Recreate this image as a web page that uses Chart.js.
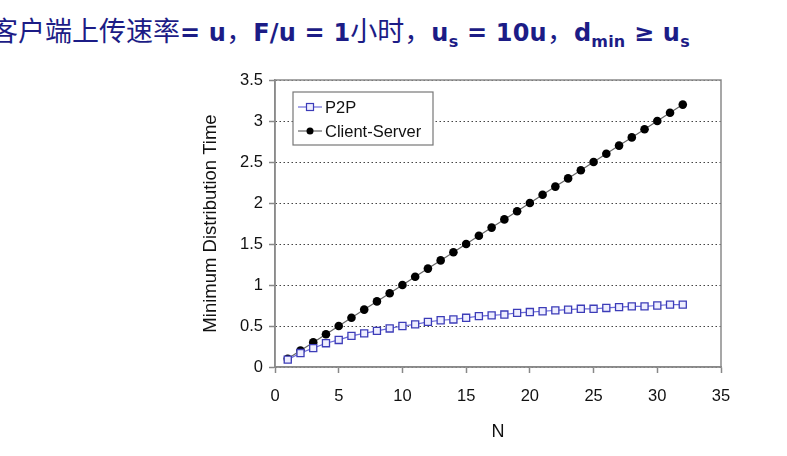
<!DOCTYPE html>
<html>
<head>
<meta charset="utf-8">
<script src="https://cdn.jsdelivr.net/npm/chart.js@4.4.0/dist/chart.umd.min.js"></script>
<style>
  html, body { margin: 0; padding: 0; background: #fff; }
  body { width: 787px; height: 456px; position: relative; overflow: hidden; }
  #title {
    position: absolute; left: -9px; top: 10px; white-space: nowrap;
    color: #1c1c86; font-family: "DejaVu Sans", Verdana, sans-serif;
    font-size: 24px; font-weight: bold; letter-spacing: 0.2px;
  }
  #title .cjk { font-family: "Noto Sans CJK SC", sans-serif; font-weight: normal; font-size: 27px; letter-spacing: 0; }
  #title sub { font-size: 16px; vertical-align: -6px; }
  #wrap { position: absolute; left: 0; top: 0; width: 787px; height: 456px; }
</style>
</head>
<body>
<div id="title"><span class="cjk">客户端上传速率</span>= u<span class="cjk">，</span>F/u = 1<span class="cjk">小时，</span>u<sub>s</sub> = 10u<span class="cjk">，</span>d<sub>min</sub> ≥ u<sub>s</sub></div>
<div id="wrap"><canvas id="chart" width="787" height="456"></canvas></div>
<script>
// N values (number of peers)
const nValues = [1, 2, 3, 4, 5, 6, 7, 8, 9, 10, 11, 12, 13, 14, 15, 16,
                 17, 18, 19, 20, 21, 22, 23, 24, 25, 26, 27, 28, 29, 30, 31, 32];

// Minimum distribution time
const p2pTimes = [0.09, 0.17, 0.23, 0.29, 0.33, 0.38, 0.41, 0.44, 0.47, 0.50, 0.52, 0.55,
                  0.57, 0.58, 0.60, 0.62, 0.63, 0.64, 0.66, 0.67, 0.68, 0.69, 0.70, 0.71,
                  0.71, 0.72, 0.73, 0.74, 0.74, 0.75, 0.76, 0.76];
const csTimes = [0.1, 0.2, 0.3, 0.4, 0.5, 0.6, 0.7, 0.8, 0.9, 1.0, 1.1, 1.2, 1.3, 1.4, 1.5, 1.6,
                 1.7, 1.8, 1.9, 2.0, 2.1, 2.2, 2.3, 2.4, 2.5, 2.6, 2.7, 2.8, 2.9, 3.0, 3.1, 3.2];

const seriesLabels = ['P2P', 'Client-Server'];

// Excel-like frame around the plot area plus a boxed legend inside it
const frameAndLegend = {
    id: 'frameAndLegend',
    afterDraw(chart) {
        const ctx = chart.ctx;
        const a = chart.chartArea;
        ctx.save();
        ctx.strokeStyle = '#8a8a8a';
        ctx.lineWidth = 1.5;
        ctx.strokeRect(a.left, a.top, a.right - a.left, a.bottom - a.top);

        // legend box
        const bx = a.left + 18, by = a.top + 12, bw = 140, bh = 53;
        ctx.fillStyle = '#fff';
        ctx.fillRect(bx, by, bw, bh);
        ctx.strokeStyle = '#777';
        ctx.lineWidth = 1.2;
        ctx.strokeRect(bx, by, bw, bh);
        ctx.font = '16.5px "Liberation Sans", Arial, sans-serif';
        ctx.textBaseline = 'middle';
        chart.data.datasets.forEach((ds, i) => {
            const y = by + 15 + i * 24;
            ctx.strokeStyle = ds.borderColor;
            ctx.lineWidth = 1.2;
            ctx.beginPath();
            ctx.moveTo(bx + 5, y);
            ctx.lineTo(bx + 29, y);
            ctx.stroke();
            if (ds.pointStyle === 'rect') {
                ctx.fillStyle = ds.pointBackgroundColor;
                ctx.strokeStyle = ds.pointBorderColor;
                ctx.fillRect(bx + 13.5, y - 3.5, 7, 7);
                ctx.strokeRect(bx + 13.5, y - 3.5, 7, 7);
            } else {
                ctx.fillStyle = ds.pointBackgroundColor;
                ctx.beginPath();
                ctx.arc(bx + 17, y, 3.5, 0, Math.PI * 2);
                ctx.fill();
            }
            ctx.fillStyle = '#111';
            ctx.fillText(ds.label, bx + 32, y + 1);
        });
        ctx.restore();
    }
};

const ctx = document.getElementById('chart').getContext('2d');
new Chart(ctx, {
    type: 'line',
    data: {
        datasets: [{
            label: seriesLabels[0],
            data: nValues.map((n, i) => ({ x: n, y: p2pTimes[i] })),
            borderColor: '#6a6ad8',
            borderWidth: 1.2,
            pointStyle: 'rect',
            pointRadius: 5,
            pointBorderWidth: 1.3,
            pointBorderColor: '#3c3cb8',
            pointBackgroundColor: '#eeeeff'
        }, {
            label: seriesLabels[1],
            data: nValues.map((n, i) => ({ x: n, y: csTimes[i] })),
            borderColor: '#666',
            borderWidth: 1.2,
            pointStyle: 'circle',
            pointRadius: 4.3,
            pointBorderWidth: 0,
            pointBorderColor: '#000',
            pointBackgroundColor: '#000'
        }]
    },
    options: {
        responsive: false,
        animation: false,
        layout: { padding: { left: 200, top: 80, right: 66, bottom: 9 } },
        plugins: {
            legend: { display: false },
            tooltip: { enabled: false }
        },
        scales: {
            x: {
                type: 'linear',
                min: 0,
                max: 35,
                afterFit: scale => { scale.height = 80; },
                ticks: {
                    stepSize: 5,
                    padding: 14,
                    color: '#111',
                    font: { size: 16.5, family: '"Liberation Sans", Arial, sans-serif' }
                },
                grid: {
                    drawOnChartArea: false,
                    drawTicks: true,
                    tickLength: 6,
                    tickColor: '#888',
                    tickWidth: 1.5
                },
                border: { color: '#888', width: 1.5 },
                title: {
                    display: true,
                    text: 'N',
                    color: '#111',
                    padding: { top: 10 },
                    font: { size: 18, family: '"Liberation Sans", Arial, sans-serif' }
                }
            },
            y: {
                min: 0,
                max: 3.5,
                afterFit: scale => { scale.width = 75; },
                ticks: {
                    stepSize: 0.5,
                    padding: 6,
                    color: '#111',
                    callback: v => String(v),
                    font: { size: 16.5, family: '"Liberation Sans", Arial, sans-serif' }
                },
                grid: {
                    color: '#444',
                    lineWidth: 1,
                    tickBorderDash: [],
                    tickColor: '#888',
                    tickLength: 6,
                    tickWidth: 1.5
                },
                border: { color: '#888', width: 1.5, dash: [1.5, 2.5] },
                title: {
                    display: true,
                    text: 'Minimum Distribution Time',
                    color: '#111',
                    padding: 0,
                    font: { size: 18.5, family: '"Liberation Sans", Arial, sans-serif' }
                }
            }
        }
    },
    plugins: [frameAndLegend]
});
</script>
</body>
</html>
